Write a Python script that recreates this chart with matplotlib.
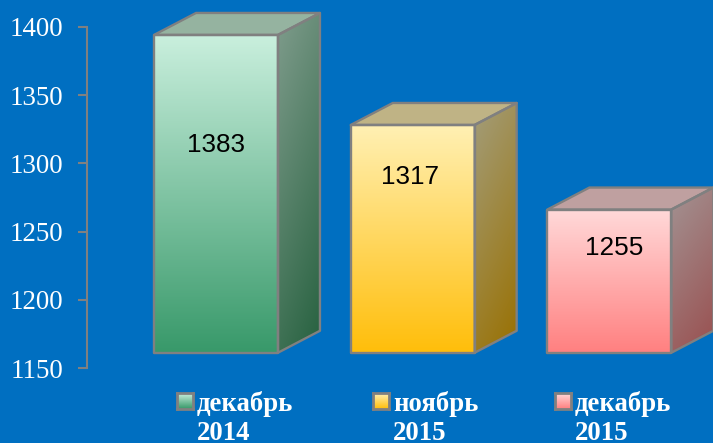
import matplotlib.pyplot as plt
import numpy as np
from matplotlib.colors import LinearSegmentedColormap
from matplotlib.patches import Polygon

plt.rcParams["font.family"] = "Liberation Serif"

W, H = 713, 443
BG = "#006fc1"
EDGE = "#808080"

categories = ["декабрь\n2014", "ноябрь\n2015", "декабрь\n2015"]
values = [1383, 1317, 1255]
yticks = [1150, 1200, 1250, 1300, 1350, 1400]

# colours per bar: front top/bottom, side top/bottom, lid
front_cols = [("#c9efdd", "#38996a"), ("#fff0b3", "#ffbe0a"), ("#ffd9d9", "#ff8080")]
side_cols = [("#7f9c8c", "#26613f"), ("#a39d7a", "#997000"), ("#a39393", "#994f4f")]
lid_cols = ["#95b3a0", "#bfb385", "#bfa0a0"]

# label positions, picked by eye
label_x = [0.0, -0.012, 0.024]
label_y = [1313.5, 1290, 1238]
legend_x = [177, 373, 555]

bar_w = 0.63
depth_x = 0.2135
depth_y = 16.1
lift = 11.2


def grad_image(ax, poly_pts, c0, c1, slant=0.0):
    # gradient image clipped to a polygon, slant tilts the gradient sideways
    pts = np.array(poly_pts)
    x0, x1 = pts[:, 0].min(), pts[:, 0].max()
    y0, y1 = pts[:, 1].min(), pts[:, 1].max()
    xx, yy = np.meshgrid(np.linspace(0, 1, 60), np.linspace(0, 1, 300))
    g = yy + slant * (1 - xx)
    g = (g - g.min()) / (g.max() - g.min())
    cmap = LinearSegmentedColormap.from_list("g", [c0, c1])
    im = ax.imshow(g, cmap=cmap, extent=(x0, x1, y1, y0), origin="upper",
                   aspect="auto", zorder=2, interpolation="bilinear")
    clip = Polygon(pts, closed=True, transform=ax.transData, facecolor="none")
    im.set_clip_box(fig.bbox)
    im.set_clip_path(clip)


fig = plt.figure(figsize=(W / 100, H / 100), dpi=100, facecolor=BG)
ax = fig.add_axes([87 / W, 1 - 368 / H, (W - 87) / W, (368 - 27) / H], facecolor="none")

for i, val in enumerate(values):
    l, r = i - bar_w / 2, i + bar_w / 2
    b, t = 1150 + lift, val + lift
    front = [(l, b), (r, b), (r, t), (l, t)]
    side = [(r, b), (r + depth_x, b + depth_y), (r + depth_x, t + depth_y), (r, t)]
    lid = [(l, t), (r, t), (r + depth_x, t + depth_y), (l + depth_x, t + depth_y)]

    grad_image(ax, side, side_cols[i][1], side_cols[i][0], slant=0.35)
    grad_image(ax, front, front_cols[i][1], front_cols[i][0])
    ax.add_patch(Polygon(lid, closed=True, facecolor=lid_cols[i], edgecolor="none", zorder=2, clip_on=False))
    for pts in (front, side, lid):
        ax.add_patch(Polygon(pts, closed=True, facecolor="none", edgecolor=EDGE,
                             linewidth=1.7, joinstyle="round", zorder=3, clip_on=False))
    ax.text(i + label_x[i], label_y[i], str(val), ha="center", va="center",
            fontsize=18.8, family="Liberation Sans", color="black", zorder=4)

ax.set_xlim(-129 / 196.7, (W - 216) / 196.7)
ax.set_ylim(1150, 1400)
ax.set_xticks([])
ax.set_yticks(yticks)
ax.tick_params(axis="y", length=6.5, width=1.5, color=EDGE, pad=10.5, labelsize=19.4, labelcolor="white")
for s in ("top", "right", "bottom"):
    ax.spines[s].set_visible(False)
ax.spines["left"].set_color(EDGE)
ax.spines["left"].set_linewidth(1.5)

# legend: gradient swatch and bold label under each bar
for i, name in enumerate(categories):
    sw = fig.add_axes([legend_x[i] / W, 1 - 409 / H, 16 / W, 16 / H])
    sw.imshow(np.linspace(0, 1, 32).reshape(-1, 1),
              cmap=LinearSegmentedColormap.from_list("s", front_cols[i]), aspect="auto")
    sw.set_xticks([])
    sw.set_yticks([])
    for sp in sw.spines.values():
        sp.set_color(EDGE)
        sp.set_linewidth(2)
    fig.text((legend_x[i] + 20) / W, 1 - 391 / H, name, color="white", fontsize=19.3,
             fontweight="bold", ha="left", va="top", linespacing=1.22)

fig.savefig("out.png", dpi=100, facecolor=BG)
